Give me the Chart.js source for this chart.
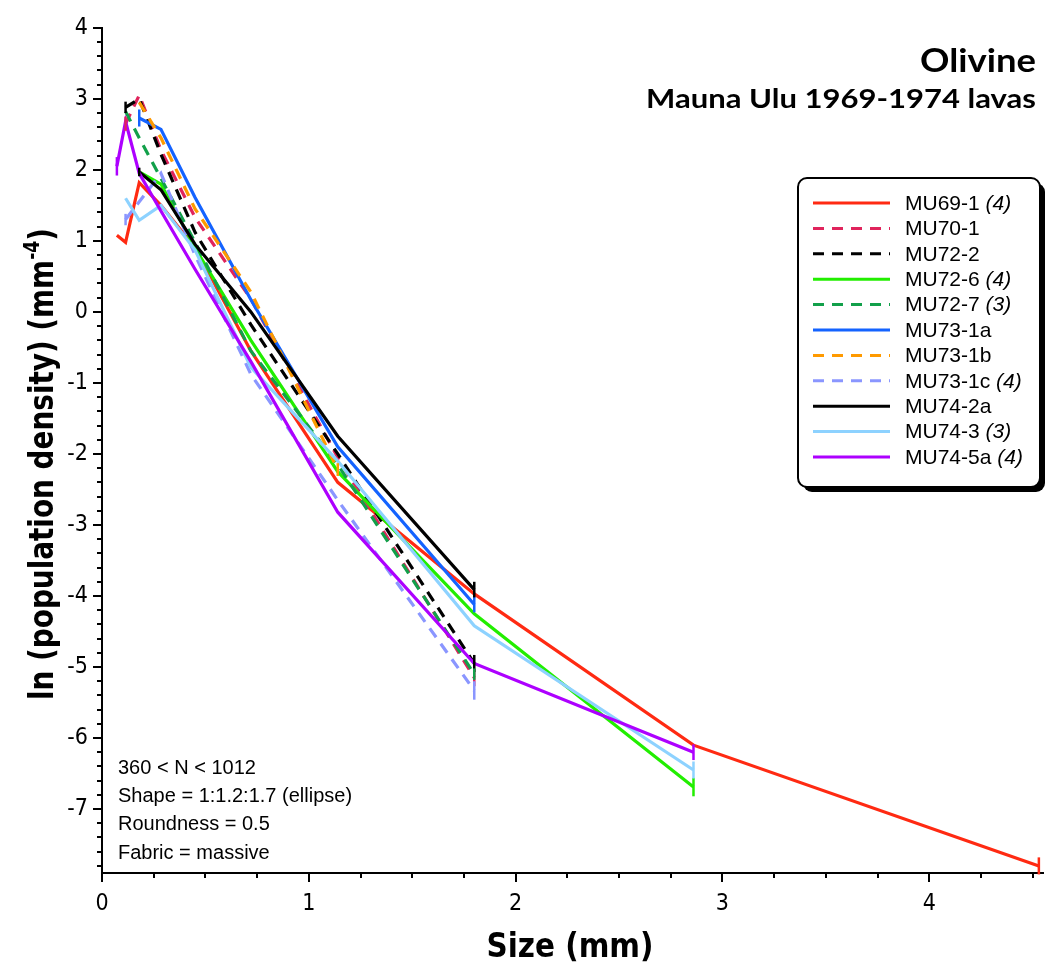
<!DOCTYPE html>
<html><head><meta charset="utf-8">
<script src="https://cdn.jsdelivr.net/npm/chart.js@4"></script>
<style>html,body{margin:0;padding:0;background:#fff}</style>
</head><body>
<canvas id="c" width="1050" height="967"></canvas>
<script>
// ---------- data ----------
const SIZES = [0.072, 0.114, 0.18, 0.285, 0.45, 0.72, 1.14, 1.80, 2.86, 4.53];
const SAMPLES = ['MU69-1','MU70-1','MU72-2','MU72-6','MU72-7','MU73-1a','MU73-1b','MU73-1c','MU74-2a','MU74-3','MU74-5a'];
const COUNTS  = ['(4)','','','(4)','(3)','','','(4)','','(3)','(4)'];
const MU69_1  = [1.08, 0.98, 1.82, 1.50, 0.90, -0.55, -2.40, -3.97, -6.10, -7.80];
const MU70_1  = [null, 2.65, 3.05, 2.28, 1.33, 0.18, -2.05, -5.15, null, null];
const MU72_2  = [null, 2.88, 3.00, 2.22, 1.12, -0.18, -2.00, -4.95, null, null];
const MU72_6  = [null, null, 1.97, 1.80, 0.90, -0.40, -2.25, -4.25, -6.69, null];
const MU72_7  = [null, 2.82, 2.45, 1.88, 0.98, -0.55, -2.15, -5.10, null, null];
const MU73_1A = [null, null, 2.73, 2.57, 1.61, 0.17, -1.90, -4.12, null, null];
const MU73_1B = [null, null, 2.95, 2.45, 1.45, 0.28, -2.22, null, null, null];
const MU73_1C = [null, 1.30, 1.55, 1.95, 0.80, -0.88, -2.65, -5.33, null, null];
const MU74_2A = [null, null, 1.97, 1.72, 0.95, 0.00, -1.75, -3.91, null, null];
const MU74_3  = [null, 1.60, 1.29, 1.50, 0.87, -0.78, -2.10, -4.42, -6.45, null];
const MU74_5A = [2.05, 2.68, 1.95, 1.42, 0.60, -0.70, -2.82, -4.95, -6.20, null];
// error half-heights at first / last point of each series (null = none)
const ERR_FIRST = [null, 0.10, 0.08, null, null, 0.12, null, 0.08, 0.06, null, 0.13];
const ERR_LAST  = [0.12, 0.12, 0.12, 0.13, 0.08, 0.11, 0.09, 0.13, 0.11, 0.12, 0.11];
const X_TICKS = [0, 1, 2, 3, 4];
const Y_TICKS = [-7, -6, -5, -4, -3, -2, -1, 0, 1, 2, 3, 4];
const TITLE = 'Olivine';
const SUBTITLE = 'Mauna Ulu 1969-1974 lavas';
const NOTES = ['360 < N < 1012', 'Shape = 1:1.2:1.7 (ellipse)', 'Roundness = 0.5', 'Fabric = massive'];

const SERIES = [MU69_1, MU70_1, MU72_2, MU72_6, MU72_7, MU73_1A, MU73_1B, MU73_1C, MU74_2A, MU74_3, MU74_5A];
const COLORS = ['#ff2a12','#e0245c','#000000','#22ee00','#12a04a','#1463ff','#ff9a00','#8a96ff','#000000','#8dd2ff','#ad00ff'];
const DASHED = [false,true,true,false,true,false,true,true,false,false,false];
const DASH = [11, 8];

const FONT_NARROW = "'Liberation Sans Narrow', 'DejaVu Sans Condensed', 'Liberation Sans', Arial, sans-serif";
const FONT_SANS = "'Liberation Sans', Arial, sans-serif";
const FONT_TITLE = "Lato, 'Open Sans', 'Noto Sans', sans-serif";

function fitText(ctx, parts, x, y, targetW, align) {
  let w = 0;
  parts.forEach(p => { ctx.font = p.font; p.w = ctx.measureText(p.text).width; w += p.w; });
  const s = targetW / w;
  ctx.save(); ctx.translate(x, y); ctx.scale(s, 1);
  let cx = align === 'center' ? -w / 2 : (align === 'right' ? -w : 0);
  ctx.textAlign = 'left';
  parts.forEach(p => { ctx.font = p.font; ctx.fillText(p.text, cx, p.dy || 0); cx += p.w; });
  ctx.restore();
}

const decor = {
  id: 'decor',
  afterDatasetsDraw(chart) {
    const ctx = chart.ctx, xs = chart.scales.x, ys = chart.scales.y;
    ctx.save();
    chart.data.datasets.forEach((ds, i) => {
      const pts = ds.data;
      ctx.strokeStyle = COLORS[i]; ctx.lineWidth = 2.5; ctx.setLineDash([]);
      const bar = (p, e) => {
        if (e == null) return;
        const px = xs.getPixelForValue(p.x);
        ctx.beginPath();
        ctx.moveTo(px, ys.getPixelForValue(p.y + e));
        ctx.lineTo(px, ys.getPixelForValue(p.y - e));
        ctx.stroke();
      };
      bar(pts[0], ERR_FIRST[i]);
      bar(pts[pts.length - 1], ERR_LAST[i]);
    });
    ctx.restore();
  },
  afterDraw(chart) {
    const ctx = chart.ctx, xs = chart.scales.x, ys = chart.scales.y, a = chart.chartArea;
    ctx.save();
    ctx.strokeStyle = '#000'; ctx.lineWidth = 2; ctx.setLineDash([]);
    for (let k = Math.ceil(ys.min / 0.2 - 1e-6); k * 0.2 <= ys.max + 1e-6; k++) {
      const v = k * 0.2, py = Math.round(ys.getPixelForValue(v));
      const major = Math.abs(v - Math.round(v)) < 1e-6;
      ctx.beginPath(); ctx.moveTo(a.left, py); ctx.lineTo(a.left - (major ? 9 : 5), py); ctx.stroke();
    }
    for (let k = 0; k * 0.25 <= xs.max + 1e-6; k++) {
      const v = k * 0.25, px = Math.round(xs.getPixelForValue(v));
      const major = k % 4 === 0;
      ctx.beginPath(); ctx.moveTo(px, a.bottom); ctx.lineTo(px, a.bottom + (major ? 9 : 5)); ctx.stroke();
    }
    ctx.fillStyle = '#000';
    ctx.textBaseline = 'alphabetic';
    fitText(ctx, [{text: TITLE, font: "bold 33px " + FONT_TITLE}], 1036, 72, 116, 'right');
    fitText(ctx, [{text: SUBTITLE, font: "bold 27px " + FONT_TITLE}], 1036, 108, 390, 'right');
    fitText(ctx, [{text: 'Size (mm)', font: "bold 34px " + FONT_NARROW}], 570, 957, 167, 'center');
    ctx.save();
    ctx.translate(53, 464); ctx.rotate(-Math.PI / 2);
    fitText(ctx, [
      {text: 'ln (population density) (mm', font: "bold 34px " + FONT_NARROW},
      {text: '-4', font: "bold 21px " + FONT_NARROW, dy: -14},
      {text: ')', font: "bold 34px " + FONT_NARROW}
    ], 0, 0, 472, 'center');
    ctx.restore();
    ctx.font = "20px " + FONT_SANS; ctx.textAlign = 'left'; ctx.textBaseline = 'middle';
    NOTES.forEach((t, i) => ctx.fillText(t, 118, 768 + i * 28.4));
    const bx = 798, by = 178, bw = 242, bh = 309, r = 9;
    ctx.fillStyle = '#000';
    ctx.beginPath(); ctx.roundRect(bx + 5, by + 5, bw, bh, r); ctx.fill();
    ctx.fillStyle = '#fff';
    ctx.beginPath(); ctx.roundRect(bx, by, bw, bh, r); ctx.fill();
    ctx.lineWidth = 2; ctx.strokeStyle = '#000'; ctx.stroke();
    chart.data.datasets.forEach((ds, i) => {
      const y = 203 + i * 25.4;
      ctx.strokeStyle = COLORS[i]; ctx.lineWidth = 3;
      ctx.setLineDash(DASHED[i] ? DASH : []);
      ctx.beginPath(); ctx.moveTo(813, y); ctx.lineTo(890, y); ctx.stroke();
      ctx.setLineDash([]);
      ctx.fillStyle = '#000'; ctx.textBaseline = 'middle';
      ctx.font = "21px " + FONT_SANS;
      ctx.fillText(SAMPLES[i], 905, y + 1);
      if (COUNTS[i]) {
        const w = ctx.measureText(SAMPLES[i] + ' ').width;
        ctx.font = "italic 21px " + FONT_SANS;
        ctx.fillText(COUNTS[i], 905 + w, y + 1);
      }
    });
    ctx.restore();
  }
};

const datasets = SAMPLES.map((name, i) => ({
  label: name,
  data: SIZES.map((x, j) => ({x: x, y: SERIES[i][j]})).filter(p => p.y !== null),
  borderColor: COLORS[i],
  borderWidth: 3.2,
  borderDash: DASHED[i] ? DASH : [],
  pointRadius: 0,
  fill: false,
  tension: 0,
  clip: false,
  order: SAMPLES.length - i
}));

new Chart(document.getElementById('c'), {
  type: 'line',
  data: {datasets},
  options: {
    responsive: false,
    animation: false,
    layout: {padding: {left: 0, top: 23, right: 7, bottom: 0}},
    plugins: {legend: {display: false}, tooltip: {enabled: false}},
    scales: {
      x: {
        type: 'linear', min: 0, max: 4.55,
        afterBuildTicks: s => { s.ticks = X_TICKS.map(v => ({value: v})); },
        afterFit: s => { s.height = 94; },
        ticks: {font: {family: FONT_NARROW, size: 23}, color: '#000', padding: 17, maxRotation: 0, autoSkip: false},
        grid: {display: false, drawTicks: false},
        border: {display: true, color: '#000', width: 2}
      },
      y: {
        type: 'linear', min: -7.9, max: 4,
        afterBuildTicks: s => { s.ticks = Y_TICKS.map(v => ({value: v})); },
        afterFit: s => { s.width = 102; },
        ticks: {font: {family: FONT_NARROW, size: 23}, color: '#000', padding: 14, autoSkip: false},
        grid: {display: false, drawTicks: false},
        border: {display: true, color: '#000', width: 2}
      }
    }
  },
  plugins: [decor]
});
</script>
</body></html>
